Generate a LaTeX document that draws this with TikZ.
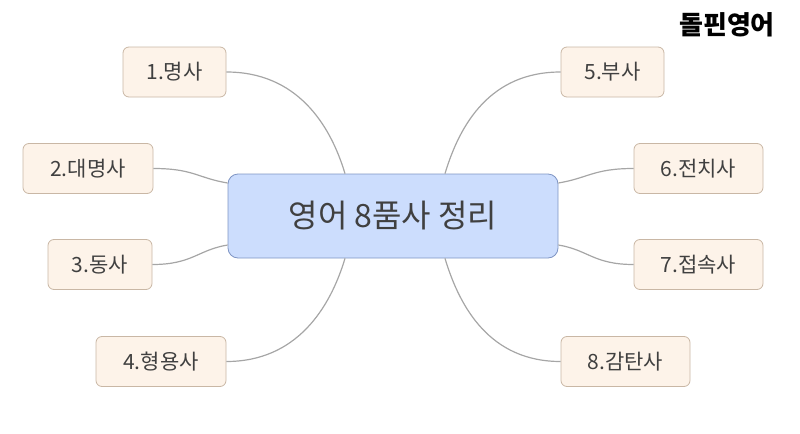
\documentclass[tikz,border=0pt]{standalone}
\usepackage{fontspec}
\setmainfont{Noto Sans CJK KR}
\usetikzlibrary{calc}
\definecolor{leaff}{HTML}{FDF3E9}
\definecolor{leafd}{HTML}{C9B7A5}
\definecolor{cenf}{HTML}{CCDDFD}
\definecolor{cend}{HTML}{7F95C4}
\definecolor{txt}{HTML}{404040}
\begin{document}
\begin{tikzpicture}[x=0.5pt,y=-0.5pt,
  leaf/.style={draw=leafd,fill=leaff,rounded corners=3pt,minimum height=25pt,inner sep=0pt,text=txt,font=\fontsize{10.5}{12}\selectfont},
  cen/.style={draw=cend,fill=cenf,rounded corners=5pt,minimum width=165pt,minimum height=42pt,text=txt,font=\fontsize{16}{18}\selectfont},
  link/.style={draw=gray!70,line width=0.6pt}]
\useasboundingbox (0,0) rectangle (800,434);
\node[cen] (c) at (393,216) {영어 8품사 정리};
\node[leaf,minimum width=51.5pt] (n1) at (174.5,72) {1.명사};
\node[leaf,minimum width=65pt] (n2) at (88,168.5) {2.대명사};
\node[leaf,minimum width=52pt] (n3) at (100,264.5) {3.동사};
\node[leaf,minimum width=65pt] (n4) at (161,361.5) {4.형용사};
\node[leaf,minimum width=51.5pt] (n5) at (612.5,72) {5.부사};
\node[leaf,minimum width=64.5pt] (n6) at (698.5,168.5) {6.전치사};
\node[leaf,minimum width=64.5pt] (n7) at (698.5,264.5) {7.접속사};
\node[leaf,minimum width=64.5pt] (n8) at (625.5,361.5) {8.감탄사};
\node[font=\bfseries\fontsize{13}{15}\selectfont,text=black] (t) at (727,25) {돌핀영어};
\coordinate (a1) at ($(c.north)+(-48,0)$);
\coordinate (a5) at ($(c.north)+(52,0)$);
\coordinate (a4) at ($(c.south)+(-48,0)$);
\coordinate (a8) at ($(c.south)+(52,0)$);
\coordinate (a2) at ($(c.west)+(0,-33)$);
\coordinate (a3) at ($(c.west)+(0,29)$);
\coordinate (a6) at ($(c.east)+(0,-33)$);
\coordinate (a7) at ($(c.east)+(0,29)$);
\draw[link] (n1.east) .. controls +(70,0) and +(-15,-50) .. (a1);
\draw[link] (n5.west) .. controls +(-70,0) and +(15,-50) .. (a5);
\draw[link] (n4.east) .. controls +(70,0) and +(-15,50) .. (a4);
\draw[link] (n8.west) .. controls +(-70,0) and +(15,50) .. (a8);
\draw[link] (n2.east) .. controls +(40,0) and +(-30,-5) .. (a2);
\draw[link] (n3.east) .. controls +(40,0) and +(-30,5) .. (a3);
\draw[link] (n6.west) .. controls +(-40,0) and +(30,-5) .. (a6);
\draw[link] (n7.west) .. controls +(-40,0) and +(30,5) .. (a7);
\end{tikzpicture}
\end{document}
